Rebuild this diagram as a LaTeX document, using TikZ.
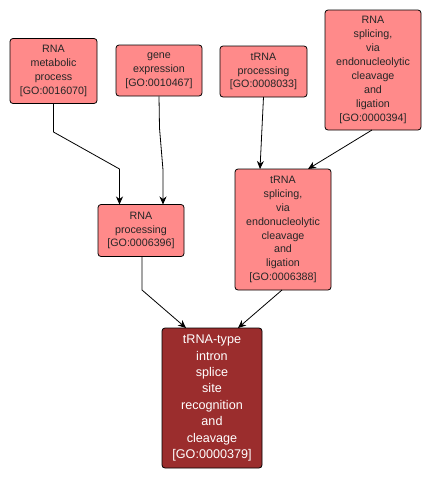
\documentclass[tikz,border=0pt]{standalone}
\usepackage{fontspec}
\setmainfont{Liberation Sans}
\usetikzlibrary{arrows.meta}
\definecolor{gofill}{RGB}{255,138,138}
\definecolor{gotarget}{RGB}{155,45,45}
\tikzset{
  gobox/.style={draw=black, line width=0.8pt, rounded corners=3pt, fill=gofill, align=center,
    font=\fontsize{10.7pt}{13.9pt}\selectfont, inner sep=0pt, text=black!85},
  gotgt/.style={gobox, fill=gotarget, text=white, font=\fontsize{12.6pt}{16.4pt}\selectfont},
  goedge/.style={draw=black, line width=0.8pt, -{Stealth[length=8pt,width=7pt,inset=2.5pt]}}
}
\begin{document}
\begin{tikzpicture}[x=1pt,y=-1pt]
\useasboundingbox[fill=white] (0,0) rectangle (430,480);
\node[gobox, minimum width=87pt, minimum height=65pt] (n1) at (53.5,71) {RNA\\metabolic\\process\\{[GO:0016070]}};
\node[gobox, minimum width=86pt, minimum height=51pt] (n2) at (159,70.5) {gene\\expression\\{[GO:0010467]}};
\node[gobox, minimum width=87pt, minimum height=51pt] (n3) at (263.5,71.5) {tRNA\\processing\\{[GO:0008033]}};
\node[gobox, minimum width=96pt, minimum height=120pt] (n4) at (373,70) {RNA\\splicing,\\via\\endonucleolytic\\cleavage\\and\\ligation\\{[GO:0000394]}};
\node[gobox, minimum width=86pt, minimum height=52pt] (n5) at (141,230.5) {RNA\\processing\\{[GO:0006396]}};
\node[gobox, minimum width=96pt, minimum height=121pt] (n6) at (283,229.5) {tRNA\\splicing,\\via\\endonucleolytic\\cleavage\\and\\ligation\\{[GO:0006388]}};
\node[gotgt, minimum width=100pt, minimum height=140pt] (n7) at (212,398) {tRNA-type\\intron\\splice\\site\\recognition\\and\\cleavage\\{[GO:0000379]}};
\coordinate (a1) at (53.5,132);
\coordinate (a2) at (119.5,169);
\coordinate (a3) at (119.5,204.5);
\coordinate (b1) at (159.5,128);
\coordinate (b2) at (163,170);
\coordinate (b3) at (163,204.5);
\coordinate (c1) at (263.5,97);
\coordinate (c2) at (260,169);
\coordinate (d1) at (372,130);
\coordinate (d2) at (308,169);
\coordinate (e1) at (142,256.5);
\coordinate (e2) at (142,290);
\coordinate (e3) at (186,328);
\coordinate (f1) at (282,290);
\coordinate (f2) at (238,328);
\draw[goedge] (n1.south) -- (a1) -- (a2) -- (a3);
\draw[goedge] (n2.south) -- (b1) -- (b2) -- (b3);
\draw[goedge] (c1) -- (c2);
\draw[goedge] (d1) -- (d2);
\draw[goedge] (e1) -- (e2) -- (e3);
\draw[goedge] (f1) -- (f2);
\end{tikzpicture}
\end{document}
